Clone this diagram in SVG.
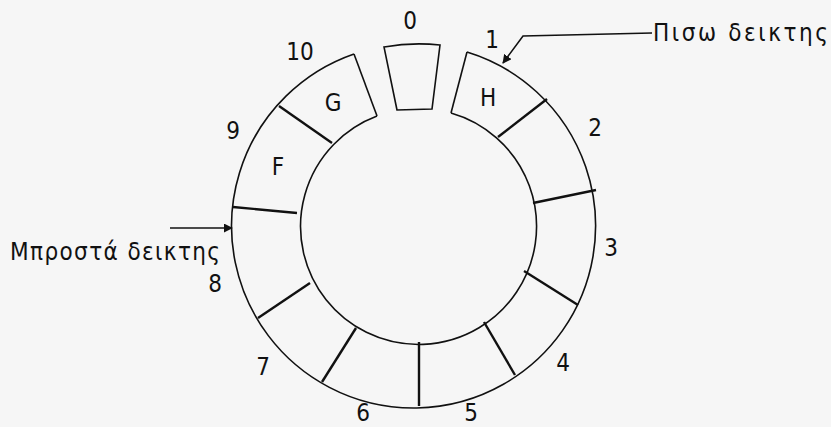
<svg xmlns="http://www.w3.org/2000/svg" width="831" height="427" viewBox="0 0 831 427">
<defs>
<style>
.ln{fill:none;stroke:#111;stroke-width:1.6}
.dv{fill:none;stroke:#111;stroke-width:2.4}
.num{font-family:"DejaVu Sans Condensed","DejaVu Sans",sans-serif;font-size:24px;fill:#111;text-anchor:middle}
.lab{font-family:"DejaVu Sans Condensed","DejaVu Sans",sans-serif;font-size:24px;fill:#111}
</style>
<marker id="ah" viewBox="0 0 10 10" refX="9" refY="5" markerWidth="9" markerHeight="9" markerUnits="userSpaceOnUse" orient="auto">
<path d="M0,0 L10,5 L0,10 z" fill="#111"/>
</marker>
</defs>
<rect width="831" height="427" fill="#f6f6f6"/>
<g id="ring">
<path class="ln" d="M467,52 A182,182 0 1 1 354,54"/>
<path class="ln" d="M451,113 A118,118 0 1 1 377,116"/>
<path class="ln" d="M467,52 L451,113"/>
<path class="ln" d="M354,54 L377,116"/>
</g>
<g id="slot0">
<path class="ln" d="M397,110 L384,47 Q412,42 440,45 L432,109 Z"/>
<text class="num" x="410" y="29">0</text>
</g>
<g id="slot1"><text class="num" x="492" y="48">1</text><text class="num" x="488" y="106">H</text></g>
<g id="slot2"><line class="dv" x1="547" y1="99" x2="498" y2="137"/><text class="num" x="595" y="136">2</text></g>
<g id="slot3"><line class="dv" x1="596" y1="190" x2="533" y2="203"/><text class="num" x="611" y="256">3</text></g>
<g id="slot4"><line class="dv" x1="578" y1="305" x2="524" y2="271"/><text class="num" x="563" y="371">4</text></g>
<g id="slot5"><line class="dv" x1="515" y1="375" x2="484" y2="322"/><text class="num" x="471" y="421">5</text></g>
<g id="slot6"><line class="dv" x1="419" y1="406" x2="419" y2="342"/><text class="num" x="363" y="421">6</text></g>
<g id="slot7"><line class="dv" x1="322" y1="382" x2="356" y2="328"/><text class="num" x="263" y="375">7</text></g>
<g id="slot8"><line class="dv" x1="258" y1="318" x2="310" y2="283"/><text class="num" x="215" y="292">8</text></g>
<g id="slot9"><line class="dv" x1="233" y1="207" x2="297" y2="213"/><text class="num" x="233" y="139">9</text><text class="num" x="278" y="175">F</text></g>
<g id="slot10"><line class="dv" x1="279" y1="106" x2="332" y2="143"/><text class="num" x="300" y="60">10</text><text class="num" x="333" y="111">G</text></g>
<g id="rear-label"><text class="lab" x="653" y="41" textLength="175" lengthAdjust="spacing">Πισω δεικτης</text></g>
<g id="front-label"><text class="lab" x="10" y="260" textLength="210" lengthAdjust="spacing">Μπροστά δεικτης</text></g>
<g id="connectors">
<path class="ln" d="M652,33 L523,36 L503,63" marker-end="url(#ah)"/>
<path class="ln" d="M170,228 L232,228" marker-end="url(#ah)"/>
</g>
</svg>
